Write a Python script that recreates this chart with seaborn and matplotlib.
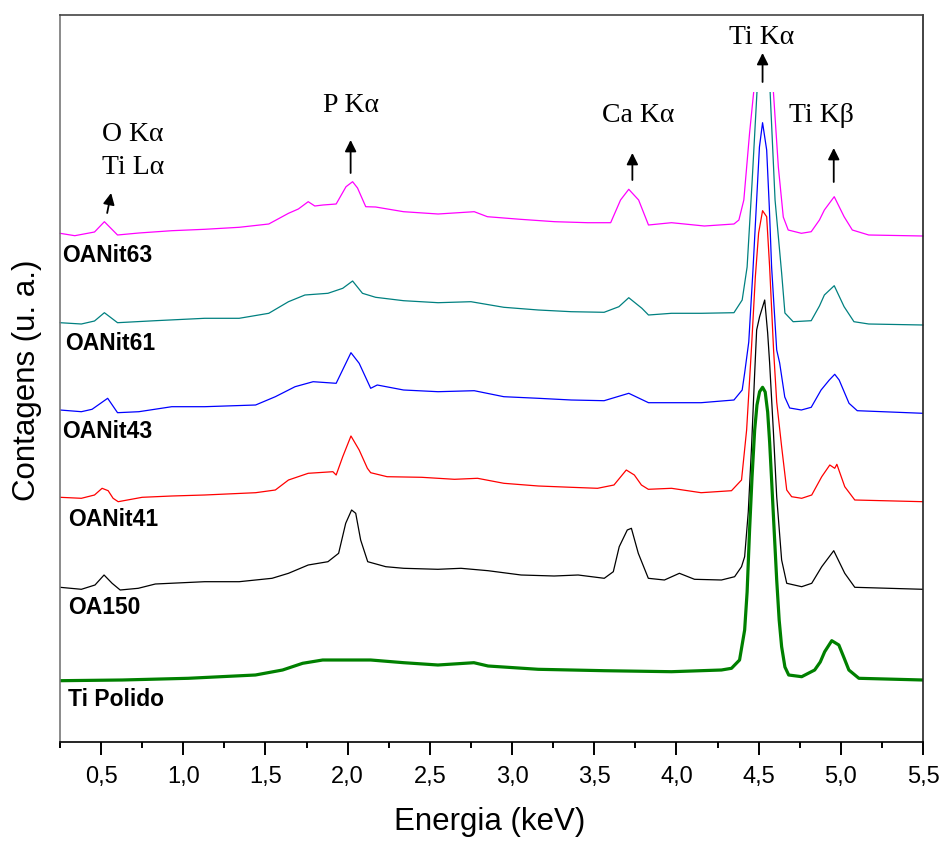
import matplotlib
matplotlib.use("Agg")
import matplotlib.pyplot as plt
from matplotlib.patches import Rectangle
import pandas as pd
import seaborn as sns

# ---------------- data (energy keV, counts a.u., stacked) ----------------
e_oanit63 = [0.25, 0.34, 0.46, 0.52, 0.60, 0.73, 0.93, 1.13, 1.34, 1.52, 1.64, 1.70, 1.76, 1.80, 1.85, 1.93,
             1.99, 2.03, 2.06, 2.11, 2.17, 2.34, 2.55, 2.77, 2.85, 3.05, 3.26, 3.46, 3.60, 3.66,
             3.71, 3.77, 3.83, 3.97, 4.17, 4.35, 4.38, 4.41, 4.445, 4.47, 4.52, 4.59, 4.62, 4.65,
             4.68, 4.76, 4.82, 4.87, 4.90, 4.96, 5.02, 5.07, 5.17, 5.50]
c_oanit63 = [508.7, 506.3, 510.0, 520.3, 507.0, 509.0, 511.3, 512.7, 514.7, 518.0, 528.7, 533.0, 540.3, 536.0, 537.0, 538.0,
             555.3, 560.3, 554.0, 535.3, 535.0, 530.3, 528.0, 530.3, 525.3, 522.7, 520.3, 519.3, 519.3, 542.0,
             552.7, 542.0, 517.0, 519.3, 516.0, 518.0, 522.0, 542.0, 609.0, 650.0, 800.0, 650.0, 575.0, 525.0,
             512.0, 508.7, 510.3, 522.0, 532.0, 545.3, 525.3, 512.0, 507.0, 506.0]

e_oanit61 = [0.25, 0.38, 0.46, 0.52, 0.60, 0.83, 1.13, 1.34, 1.52, 1.64, 1.74, 1.88, 1.97, 2.03,
             2.09, 2.17, 2.34, 2.55, 2.75, 2.95, 3.16, 3.36, 3.56, 3.65, 3.71, 3.79, 3.83, 3.97,
             4.15, 4.35, 4.40, 4.43, 4.46, 4.49, 4.525, 4.57, 4.60, 4.64, 4.66, 4.71, 4.82, 4.87, 4.90,
             4.96, 5.02, 5.08, 5.17, 5.50]
c_oanit61 = [419.3, 418.0, 421.0, 429.3, 419.3, 421.3, 423.7, 423.7, 428.7, 440.3, 447.0, 448.7, 453.7, 461.0,
             448.7, 444.7, 441.3, 439.3, 440.3, 434.7, 432.0, 430.3, 429.7, 435.3, 444.3, 433.7, 427.0, 428.7,
             428.7, 429.3, 442.0, 475.0, 559.0, 650.0, 780.0, 650.0, 542.0, 469.0, 429.0, 420.3, 421.3, 436.0, 447.0,
             456.3, 435.3, 420.3, 418.0, 417.0]

e_oanit43 = [0.25, 0.38, 0.445, 0.54, 0.60, 0.73, 0.93, 1.13, 1.44, 1.56, 1.68, 1.79, 1.93, 2.02,
             2.07, 2.14, 2.18, 2.34, 2.55, 2.77, 2.95, 3.16, 3.36, 3.56, 3.71, 3.83, 4.15, 4.35,
             4.40, 4.415, 4.44, 4.465, 4.488, 4.505, 4.524, 4.549, 4.565, 4.579, 4.61, 4.628, 4.659, 4.689, 4.76, 4.82,
             4.88, 4.93, 4.963, 4.99, 5.05, 5.10, 5.50]
c_oanit43 = [332.0, 330.3, 332.7, 343.7, 329.3, 330.3, 335.3, 335.3, 337.0, 345.3, 355.3, 360.3, 358.7, 389.3,
             378.7, 353.7, 357.0, 352.0, 350.3, 351.3, 345.3, 343.7, 342.0, 341.3, 348.7, 339.3, 339.3, 342.0,
             352.0, 369.0, 400.0, 470.0, 542.0, 595.0, 619.3, 592.0, 535.0, 475.0, 392.0, 379.0, 345.0, 334.0, 332.0, 334.7,
             352.0, 362.0, 367.7, 362.0, 338.7, 331.3, 328.7]

e_oanit41 = [0.25, 0.38, 0.46, 0.506, 0.543, 0.573, 0.604, 0.75, 0.93, 1.13, 1.44, 1.56, 1.64, 1.76,
             1.91, 1.93, 1.97, 2.02, 2.07, 2.12, 2.14, 2.24, 2.45, 2.65, 2.79, 2.95, 3.16, 3.36,
             3.52, 3.62, 3.695, 3.744, 3.787, 3.829, 3.97, 4.15, 4.335, 4.396, 4.427, 4.457, 4.48, 4.50,
             4.524, 4.549, 4.567, 4.591, 4.61, 4.64, 4.671, 4.701, 4.762, 4.823, 4.884, 4.933,
             4.963, 4.976, 5.024, 5.085, 5.50]
c_oanit41 = [244.7, 243.7, 247.0, 253.7, 251.3, 243.7, 240.3, 244.7, 246.0, 247.0, 249.3, 252.0, 262.0, 268.7,
             270.3, 267.0, 285.3, 306.0, 292.0, 273.7, 269.3, 265.3, 264.7, 262.7, 263.7, 258.7, 256.0, 254.7,
             253.7, 257.0, 272.0, 267.0, 257.0, 252.7, 253.7, 249.3, 251.3, 262.0, 312.0, 395.3, 465.0, 509.0,
             531.3, 525.3, 475.0, 392.0, 340.0, 295.3, 252.0, 245.3, 243.7, 247.0, 265.3, 277.0,
             273.7, 277.7, 255.3, 242.0, 240.3]

e_oa150 = [0.25, 0.38, 0.463, 0.518, 0.567, 0.616, 0.726, 0.83, 1.13, 1.34, 1.54, 1.64, 1.76, 1.88,
           1.945, 1.988, 2.024, 2.049, 2.079, 2.122, 2.232, 2.341, 2.549, 2.689, 2.854, 3.055, 3.256,
           3.402, 3.561, 3.616, 3.652, 3.701, 3.726, 3.768, 3.829, 3.927, 4.018, 4.11, 4.274, 4.354,
           4.396, 4.415, 4.437, 4.457, 4.475, 4.488, 4.506, 4.537, 4.555, 4.567, 4.59, 4.61, 4.64, 4.671, 4.762, 4.823,
           4.884, 4.957, 5.024, 5.085, 5.50]
c_oa150 = [154.7, 152.7, 157.0, 167.0, 158.7, 152.0, 153.7, 158.0, 160.3, 160.3, 163.7, 168.7, 177.0, 180.3,
           188.7, 218.7, 232.0, 228.7, 202.0, 180.3, 175.3, 173.7, 172.7, 173.7, 171.3, 167.0, 166.0,
           167.0, 163.7, 170.3, 195.3, 212.0, 213.7, 188.7, 163.7, 162.0, 168.7, 162.7, 162.0, 165.3,
           175.3, 185.3, 230.0, 295.3, 365.0, 412.0, 425.3, 442.0, 409.0, 379.0, 310.0, 245.3, 182.0, 158.7, 155.3, 158.7,
           175.3, 191.3, 168.7, 154.7, 152.7]

e_ti_polido = [0.25, 0.628, 1.03, 1.439, 1.604, 1.726, 1.848, 2.049, 2.14, 2.341, 2.549, 2.768, 2.854,
               3.159, 3.561, 3.97, 4.274, 4.335, 4.384, 4.415, 4.43, 4.445, 4.46, 4.476, 4.49, 4.506, 4.524,
               4.54, 4.555, 4.567, 4.579, 4.595, 4.61, 4.625, 4.64, 4.66, 4.683, 4.762, 4.841, 4.875, 4.902,
               4.945, 4.988, 5.02, 5.049, 5.11, 5.50]
c_ti_polido = [61.3, 62.0, 63.7, 67.0, 72.0, 78.7, 82.0, 82.0, 82.0, 79.3, 77.0, 79.3, 76.0,
               72.7, 71.3, 70.3, 72.0, 73.7, 82.0, 112.0, 150.0, 212.0, 265.0, 312.0, 337.0, 350.3, 354.7,
               350.0, 330.0, 300.0, 262.0, 210.0, 162.0, 122.0, 95.3, 75.0, 67.0, 65.3, 72.0, 80.0, 90.3,
               101.3, 97.0, 84.0, 72.0, 63.7, 62.0]

series_names = ["OANit63", "OANit61", "OANit43", "OANit41", "OA150", "Ti Polido"]
series_energy = [e_oanit63, e_oanit61, e_oanit43, e_oanit41, e_oa150, e_ti_polido]
series_counts = [c_oanit63, c_oanit61, c_oanit43, c_oanit41, c_oa150, c_ti_polido]

# sample label anchors (energy, counts)
label_e = [0.262, 0.28, 0.262, 0.299, 0.299, 0.299]
label_c = [487, 399, 310, 223, 134, 42]

# peak annotations
peak_texts = ["O Kα\nTi Lα", "P Kα", "Ca Kα", "Ti Kα", "Ti Kβ"]
peak_text_e = [0.695, 2.018, 3.768, 4.518, 4.884]
peak_text_c = [591, 637, 627, 705, 627]
arrow_tail_e = [0.537, 2.018, 3.732, 4.524, 4.957]
arrow_tail_c = [529, 569, 562, 660, 560]
arrow_head_e = [0.561, 2.018, 3.732, 4.524, 4.957]
arrow_head_c = [549, 602, 589, 689, 594]

x_ticks = [0.5, 1.0, 1.5, 2.0, 2.5, 3.0, 3.5, 4.0, 4.5, 5.0, 5.5]
x_tick_labels = ["0,5", "1,0", "1,5", "2,0", "2,5", "3,0", "3,5", "4,0", "4,5", "5,0", "5,5"]
x_minor_ticks = [0.25, 0.75, 1.25, 1.75, 2.25, 2.75, 3.25, 3.75, 4.25, 4.75, 5.25]

# ---------------- style ----------------
colors = ["#FF00FF", "#008080", "#0000FF", "#FF0000", "#000000", "#008000"]
widths = [0.9, 0.9, 0.9, 0.9, 0.9, 2.3]
clip_top = [True, True, False, False, False, False]
clip_level = 650

sns.set_style("ticks")
plt.rcParams["font.family"] = ["Liberation Sans", "DejaVu Sans"]
plt.rcParams["text.color"] = "black"
plt.rcParams["axes.labelcolor"] = "black"
plt.rcParams["xtick.color"] = "black"
plt.rcParams["xtick.labelcolor"] = "black"

fig = plt.figure(figsize=(9.44, 8.41), dpi=100)
ax = fig.add_axes([60 / 944, 1 - 742 / 841, 863 / 944, 727 / 841])

for name, e, c, col, lw, clip in zip(series_names, series_energy, series_counts,
                                     colors, widths, clip_top):
    df = pd.DataFrame({"Energia": e, "Contagens": c})
    n_before = len(ax.lines)
    sns.lineplot(data=df, x="Energia", y="Contagens", ax=ax, color=col,
                 linewidth=lw, estimator=None, sort=False)
    if clip:
        rect = Rectangle((0.0, -100), 10, clip_level + 100, transform=ax.transData)
        for ln in ax.lines[n_before:]:
            ln.set_clip_path(rect)

for name, le, lc in zip(series_names, label_e, label_c):
    ax.text(le, lc, name, fontsize=16.5, fontweight="bold", ha="left", va="center",
            color="black", family=["Liberation Sans", "DejaVu Sans"])

serif = ["Liberation Serif", "DejaVu Serif"]
for t, te, tc in zip(peak_texts, peak_text_e, peak_text_c):
    ax.text(te, tc, t, fontsize=20, ha="center", va="center", family=serif,
            color="black", linespacing=1.45)

for te, tc, he, hc in zip(arrow_tail_e, arrow_tail_c, arrow_head_e, arrow_head_c):
    ax.annotate("", xy=(he, hc), xytext=(te, tc),
                arrowprops=dict(arrowstyle="-|>", color="black", lw=1.3,
                                mutation_scale=17, shrinkA=0, shrinkB=0))

ax.set_xlim(0.25, 5.5)
ax.set_ylim(0, 727)
ax.set_xticks(x_ticks)
ax.set_xticklabels(x_tick_labels)
ax.set_xticks(x_minor_ticks, minor=True)
ax.set_yticks([])
ax.tick_params(axis="x", which="major", direction="out", length=9, width=1.4,
               labelsize=17, pad=8, color="black", labelcolor="black")
ax.tick_params(axis="x", which="minor", direction="out", length=4.5, width=1.4,
               color="black")

for side in ["top", "right", "bottom", "left"]:
    ax.spines[side].set_visible(True)
    ax.spines[side].set_linewidth(1.2)
ax.spines["bottom"].set_color("black")
ax.spines["left"].set_color("#777777")
ax.spines["top"].set_color("#444444")
ax.spines["right"].set_color("#222222")

ax.set_xlabel("Energia (keV)", fontsize=22.5, va="center", color="black")
ax.xaxis.set_label_coords(0.498, -0.110)
ax.set_ylabel("Contagens (u. a.)", fontsize=22.5, va="center", color="black")
ax.yaxis.set_label_coords(-0.0382, 0.498)

fig.savefig("out.png", dpi=100)
